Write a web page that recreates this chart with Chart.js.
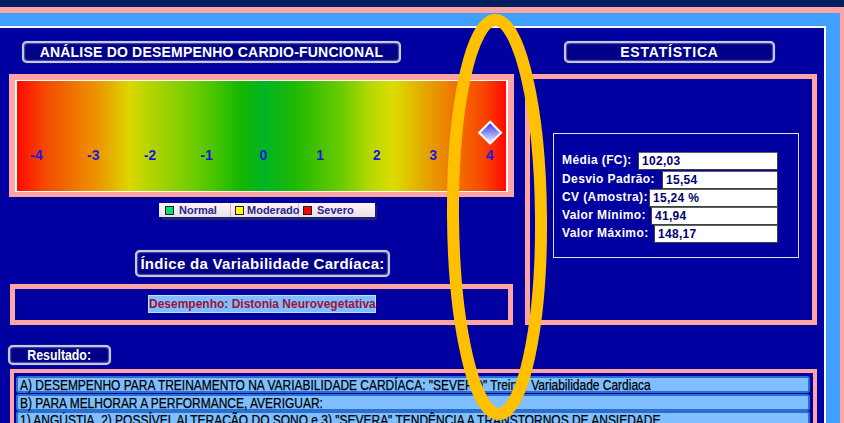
<!DOCTYPE html>
<html>
<head>
<meta charset="utf-8">
<script src="https://cdn.jsdelivr.net/npm/chart.js@4.4.1/dist/chart.umd.min.js"></script>
<style>
html,body{margin:0;padding:0;}
body{width:844px;height:423px;overflow:hidden;position:relative;background:#0000a0;font-family:"Liberation Sans",Arial,sans-serif;}
.abs{position:absolute;box-sizing:border-box;}
.btn{background:#000088;border:2px solid #c8c8dc;border-radius:5px;box-shadow:inset 0 0 2px #ffffff,0 0 1px #8080c0;color:#ffffff;font-weight:bold;text-align:center;white-space:nowrap;}
.pink{border:5px solid #ffa4a4;}
.lab{color:#ffffff;font-weight:bold;font-size:12px;letter-spacing:0.4px;white-space:nowrap;}
.val{background:#ffffff;border:1px solid #404040;border-top-color:#606060;color:#000070;font-weight:bold;font-size:12px;padding-left:3px;line-height:16px;letter-spacing:0.3px;}
.row{left:16px;width:794px;height:17px;background:#7fbfff;border:2px solid #2a6fd0;border-radius:3px;color:#000000;font-size:14px;line-height:14px;padding-left:2px;white-space:nowrap;-webkit-text-stroke:0.25px #000;}
.row span{display:inline-block;transform:scaleX(0.855);transform-origin:0 0;}
.leg{font-weight:bold;font-size:11px;color:#28288a;line-height:14px;white-space:nowrap;}
.sq{display:inline-block;width:7px;height:7px;border:1px solid #202020;margin:0 5px 0 6px;vertical-align:-1px;}
</style>
</head>
<body>
<!-- frame bands -->
<div class="abs" style="left:0;top:0;width:844px;height:7px;background:#002060"></div>
<div class="abs" style="left:0;top:7px;width:844px;height:6px;background:#ffa4a4"></div>
<div class="abs" style="left:0;top:13px;width:844px;height:13px;background:#40a0ff"></div>
<div class="abs" style="left:0;top:26px;width:826px;height:2px;background:#ffffff"></div>
<div class="abs" style="left:824px;top:26px;width:2px;height:397px;background:#ffffff"></div>
<div class="abs" style="left:826px;top:13px;width:14px;height:410px;background:#40a0ff"></div>
<div class="abs" style="left:840px;top:7px;width:4px;height:416px;background:#ffa4a4"></div>

<div class="abs btn" style="left:22px;top:41px;width:379px;height:22px;font-size:14px;line-height:18px;letter-spacing:0.2px">ANÁLISE DO DESEMPENHO CARDIO-FUNCIONAL</div>
<div class="abs btn" style="left:564px;top:41px;width:211px;height:22px;font-size:14px;line-height:18px;letter-spacing:0.8px">ESTATÍSTICA</div>

<!-- chart frame -->
<div class="abs" style="left:9px;top:74px;width:505px;height:123px;background:#ffa4a4"></div>
<div class="abs" style="left:15px;top:80px;width:493px;height:112px;background:#ffffff"></div>
<div class="abs" style="left:17px;top:81px;width:489px;height:110px"><canvas id="scoreChart"></canvas></div>

<!-- legend -->
<div class="abs" style="left:162px;top:206px;width:215px;height:14px;background:#202070"></div>
<div class="abs leg" style="left:159px;top:203px;width:216px;height:14px;background:linear-gradient(#fff4f4,#e8e0ec);">
  <div class="abs" style="left:0;top:0;width:72px;height:14px;border-right:1px solid #c0b8c8"><span class="sq" style="background:#00e070"></span>Normal</div>
  <div class="abs" style="left:72px;top:0;width:68px;height:14px;border-right:1px solid #c0b8c8"><span class="sq" style="background:#ffff00;margin-left:4px;margin-right:3px"></span>Moderado</div>
  <div class="abs" style="left:140px;top:0;width:76px;height:14px"><span class="sq" style="background:#ff0000;margin-left:4px;margin-right:5px"></span>Severo</div>
</div>

<div class="abs btn" style="left:135px;top:250px;width:255px;height:27px;font-size:15px;line-height:23px;letter-spacing:0.3px">Índice da Variabilidade Cardíaca:</div>

<div class="abs pink" style="left:10px;top:284px;width:503px;height:41px"></div>
<div class="abs" style="left:148px;top:295px;width:228px;height:18px;background:#7fbfff;border:1px solid #c0e0ff;color:#a01038;font-weight:bold;font-size:12px;line-height:16px;text-align:center;white-space:nowrap">Desempenho: Distonia Neurovegetativa</div>

<!-- stats -->
<div class="abs pink" style="left:525px;top:74px;width:292px;height:251px"></div>
<div class="abs" style="left:553px;top:133px;width:246px;height:125px;border:1px solid #e0e0ff"></div>
<div class="abs lab" style="left:562px;top:153px">Média (FC):</div>
<div class="abs val" style="left:638px;top:152px;width:140px;height:18px">102,03</div>
<div class="abs lab" style="left:562px;top:172px">Desvio Padrão:</div>
<div class="abs val" style="left:662px;top:171px;width:116px;height:18px">15,54</div>
<div class="abs lab" style="left:562px;top:190px">CV (Amostra):</div>
<div class="abs val" style="left:649px;top:189px;width:129px;height:18px">15,24 %</div>
<div class="abs lab" style="left:562px;top:208px">Valor Mínimo:</div>
<div class="abs val" style="left:651px;top:207px;width:127px;height:18px">41,94</div>
<div class="abs lab" style="left:562px;top:226px">Valor Máximo:</div>
<div class="abs val" style="left:654px;top:225px;width:124px;height:18px">148,17</div>

<!-- result -->
<div class="abs btn" style="left:8px;top:345px;width:103px;height:20px;font-size:14px;line-height:16px"><span style="display:inline-block;transform:scaleX(0.88)">Resultado:</span></div>
<div class="abs" style="left:10px;top:369px;width:807px;height:60px;background:#ffa4a4"></div>
<div class="abs" style="left:14px;top:373px;width:799px;height:60px;background:#0000a0"></div>
<div class="abs row" style="top:376px"><span>A) DESEMPENHO PARA TREINAMENTO NA VARIABILIDADE CARDÍACA: "SEVERO" Treinar Variabilidade Cardiaca</span></div>
<div class="abs row" style="top:394px"><span>B) PARA MELHORAR A PERFORMANCE, AVERIGUAR:</span></div>
<div class="abs row" style="top:411px"><span>1) ANGÚSTIA, 2) POSSÍVEL ALTERAÇÃO DO SONO e 3) "SEVERA" TENDÊNCIA A TRANSTORNOS DE ANSIEDADE</span></div>

<!-- highlight mark -->
<svg class="abs" style="left:0;top:0" width="844" height="423">
  <ellipse cx="497" cy="217" rx="44" ry="197" fill="none" stroke="#ffc000" stroke-width="12" transform="rotate(-0.5 497 217)"/>
</svg>

<script>
// scale of the indicator
const tickValues = [-4, -3, -2, -1, 0, 1, 2, 3, 4];
const tickLabels = ["-4", "-3", "-2", "-1", "0", "1", "2", "3", "4"];
const xMin = -4.35;
const xMax = 4.28;

// patient position
const scoreX = [4];
const scoreY = [5.3];

const bandPlugin = {
    id: "band",
    beforeDraw(chart){
        const {ctx, chartArea: a, scales: {x}} = chart;
        const stops = [
            [-4.35, "#ff0a00"], [-3.9, "#f44400"], [-3.3, "#f07800"], [-2.9, "#ec9800"],
            [-2.35, "#dcd800"], [-2.0, "#b4d400"], [-1.2, "#6ccc00"], [-0.4, "#14b800"],
            [0, "#00b424"], [0.6, "#22ba00"], [1.4, "#6ccc00"], [1.9, "#b8d800"],
            [2.3, "#dcdc00"], [2.8, "#e4ac00"], [3.3, "#ee7c00"], [3.9, "#f84400"], [4.28, "#ff0800"]
        ];
        const g = ctx.createLinearGradient(a.left, 0, a.right, 0);
        stops.forEach(s => {
            const p = (x.getPixelForValue(s[0]) - a.left) / (a.right - a.left);
            g.addColorStop(Math.min(1, Math.max(0, p)), s[1]);
        });
        ctx.save();
        ctx.fillStyle = g;
        ctx.fillRect(a.left, a.top, a.right - a.left, a.bottom - a.top);
        ctx.restore();
    }
};

new Chart(document.getElementById("scoreChart"), {
    type: "scatter",
    data: {
        datasets: [{
            data: scoreX.map((v, i) => ({x: v, y: scoreY[i]})),
            pointStyle: "rectRot",
            pointRadius: 11,
            borderColor: "#ffffff",
            borderWidth: 2,
            backgroundColor(c){
                const chart = c.chart;
                if(!chart.scales.y || !c.parsed) return "#8080ff";
                const py = chart.scales.y.getPixelForValue(c.parsed.y);
                if(!isFinite(py)) return "#8080ff";
                const g = chart.ctx.createLinearGradient(0, py - 10, 0, py + 10);
                g.addColorStop(0, "#3a3af0");
                g.addColorStop(0.5, "#9090f8");
                g.addColorStop(1, "#f0f0ff");
                return g;
            }
        }]
    },
    options: {
        responsive: true,
        maintainAspectRatio: false,
        animation: false,
        layout: {padding: 0, autoPadding: false},
        plugins: {legend: {display: false}, tooltip: {enabled: false}},
        scales: {
            x: {
                type: "linear",
                min: xMin,
                max: xMax,
                position: {y: 4.2},
                afterBuildTicks(scale){
                    scale.ticks = tickValues.map(v => ({value: v}));
                },
                grid: {display: false, drawTicks: false},
                border: {display: false},
                ticks: {
                    padding: 3,
                    color: "#1414ee",
                    font: {family: "Liberation Sans", size: 14, weight: "bold"},
                    callback: (v) => tickLabels[tickValues.indexOf(v)]
                }
            },
            y: {min: 0, max: 10, display: false}
        }
    },
    plugins: [bandPlugin]
});
</script>
</body>
</html>
